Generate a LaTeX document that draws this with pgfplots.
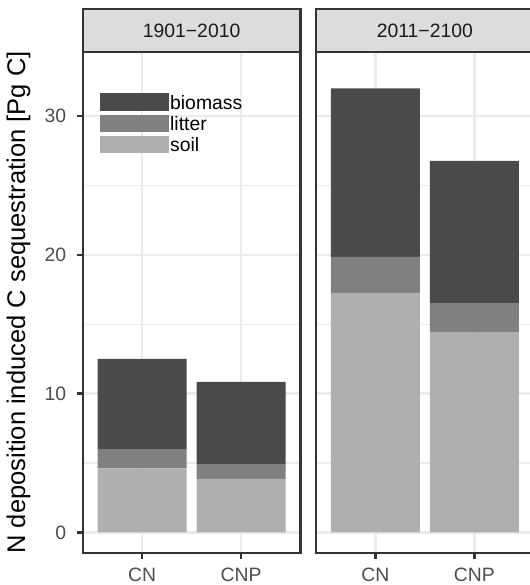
\documentclass[border=0pt]{standalone}
\usepackage{pgfplots}
\pgfplotsset{compat=1.18}
\usepackage{pgfplotstable}
\usepackage{fontspec}
\setmainfont{Liberation Sans}
\definecolor{cbio}{HTML}{4A4A4A}
\definecolor{clit}{HTML}{808080}
\definecolor{csoil}{HTML}{AFAFAF}
\definecolor{grey10}{HTML}{1A1A1A}
\definecolor{grey20}{HTML}{333333}
\definecolor{grey30}{HTML}{4D4D4D}
\definecolor{grey85}{HTML}{DCDCDC}
\definecolor{grey92}{HTML}{EBEBEB}

\pgfplotstableread{
x soil litter biomass
1 4.62 1.38 6.50
2 3.85 1.07 5.92
}\early
\pgfplotstableread{
x soil litter biomass
1 17.27 2.58 12.15
2 14.39 2.14 10.24
}\late

\pgfplotsset{
  panel/.style={
    width=99pt, height=228pt, scale only axis,
    xmin=0.4, xmax=2.6, ymin=-1.51, ymax=34.65,
    ybar stacked, bar width=0.9,
    xtick={1,2}, xticklabels={CN,CNP},
    ytick={0,10,20,30}, minor ytick={5,15,25},
    xtick pos=bottom, ytick pos=left,
    grid=both,
    major grid style={color=grey92, line width=1.07pt},
    minor grid style={color=grey92, line width=0.53pt},
    axis line style={color=grey20, line width=1.07pt},
    tick align=outside, major tick length=2.75pt, minor tick length=0pt,
    major tick style={color=grey20, line width=1.07pt},
    tick label style={font=\fontsize{8.8}{10}\selectfont, text=grey30},
    /pgf/number format/assume math mode=true,
    xticklabel style={yshift=-0.6pt},
    yticklabel style={xshift=-1.2pt},
    every axis plot post/.append style={draw=none},
  },
}

\begin{document}
\begin{tikzpicture}
\begin{axis}[panel, name=left, at={(37.59pt,14.41pt)}, anchor=south west,
    ylabel={N deposition induced C sequestration [Pg C]},
    every axis y label/.style={at={(axis description cs:-0.295,0.5)}, rotate=90, anchor=center, font=\fontsize{11.6}{13}\selectfont, text=black},
    reverse legend,
    legend style={at={(axis description cs:0.0794,0.917)}, anchor=north west, draw=none, fill=none,
      inner sep=0pt, outer sep=0pt, row sep=1.8pt, column sep=0.5pt,
      nodes={inner sep=0pt, outer sep=0pt, text depth=0pt, font=\fontsize{8.8}{10}\selectfont, text=black},
      cells={anchor=west}},
    legend cell align=left,
    every axis plot post/.append style={legend image code/.code={\fill[##1] (0pt,-3.95pt) rectangle (31.4pt,3.95pt);}},
  ]
  \addplot[fill=csoil] table[x=x, y=soil] {\early};
  \addplot[fill=clit] table[x=x, y=litter] {\early};
  \addplot[fill=cbio] table[x=x, y=biomass] {\early};
  \legend{soil, litter, biomass}
\end{axis}
\begin{axis}[panel, name=right, at={(143.6pt,14.41pt)}, anchor=south west,
    yticklabels={}, ytick style={draw=none}]
  \addplot[fill=csoil] table[x=x, y=soil] {\late};
  \addplot[fill=clit] table[x=x, y=litter] {\late};
  \addplot[fill=cbio] table[x=x, y=biomass] {\late};
\end{axis}
\foreach \p/\t in {left/1901−2010, right/2011−2100}{
  \draw[grey20, line width=1.07pt, fill=grey85] (\p.north west) rectangle ([yshift=19.4pt]\p.north east);
  \node[font=\fontsize{8.8}{10}\selectfont, text=grey10, inner sep=0pt] at ([yshift=9.7pt]\p.north) {\t};
}
\pgfresetboundingbox
\path[use as bounding box] (0pt,0pt) rectangle (240.9pt,265.9pt);
\end{tikzpicture}
\end{document}
